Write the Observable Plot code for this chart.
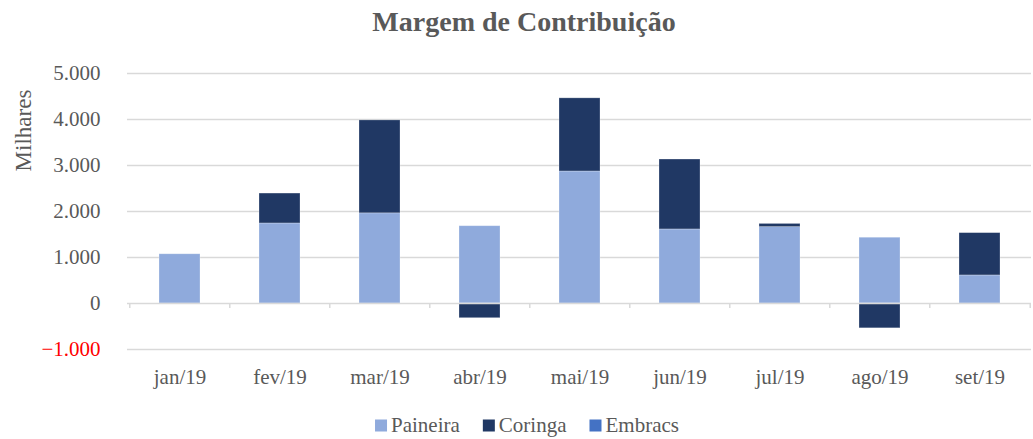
<!DOCTYPE html>
<html>
<head>
<meta charset="utf-8">
<script src="https://cdn.jsdelivr.net/npm/d3@7"></script>
<script src="https://cdn.jsdelivr.net/npm/@observablehq/plot@0.6"></script>
<style>
  body { margin: 0; background: #fff; }
  #wrap { position: relative; width: 1033px; height: 439px; font-family: "Liberation Serif", "DejaVu Serif", serif; }
  #title { position: absolute; top: 6px; left: 0; width: 1048px; text-align: center; font-family: "Liberation Serif", "DejaVu Serif", serif; font-size: 28px; font-weight: bold; color: #595959; line-height: 32px; }
  #legend { position: absolute; top: 0; left: 0; }
</style>
</head>
<body>
<div id="wrap">
  <div id="title">Margem de Contribuição</div>
  <div id="chart"></div>
  <svg id="legend" width="1033" height="439"></svg>
</div>
<script>
const months = ["jan/19","fev/19","mar/19","abr/19","mai/19","jun/19","jul/19","ago/19","set/19"];
const series = ["Paineira","Coringa","Embracs"];
const colors = ["#8FAADC","#203864","#4472C4"];
const paineira = [1070, 1740, 1960, 1680, 2870, 1610, 1660, 1430, 610];
const coringa  = [0, 650, 2020, -320, 1590, 1520, 70, -540, 920];
const embracs  = [0, 0, 0, 0, 0, 0, 0, 0, 0];
const yTicks = [-1000, 0, 1000, 2000, 3000, 4000, 5000];

const valuesBySeries = [paineira, coringa, embracs];
const data = [];
series.forEach((s, si) => months.forEach((m, mi) => data.push({month: m, series: s, value: valuesBySeries[si][mi]})));

const loc = d3.formatLocale({decimal: ",", thousands: ".", grouping: [3], currency: ["R$", ""]});
const fmt = loc.format(",");

const step = (1031 - 127) / months.length;

const chart = Plot.plot({
  width: 1033,
  height: 439,
  marginTop: 73,
  marginBottom: 90,
  marginLeft: 127,
  marginRight: 2,
  style: {fontFamily: "Liberation Serif, DejaVu Serif, serif", fontSize: "20px", color: "#595959", background: "#fff"},
  x: {domain: months, paddingInner: 0.59, paddingOuter: 0.295, label: null},
  y: {domain: [-1000, 5000], label: null},
  color: {domain: series, range: colors},
  marks: [
    Plot.ruleY(yTicks.filter(d => d !== 0), {stroke: "#d9d9d9", strokeWidth: 1.5}),
    Plot.barY(data, Plot.stackY({x: "month", y: "value", fill: "series", order: series, stroke: "#ffffff", strokeOpacity: 0.35, strokeWidth: 0.75})),
    Plot.ruleY([0], {stroke: "#d9d9d9", strokeWidth: 1.5}),
    Plot.ruleX(months, {x: d => d, y1: 0, y2: -110, dx: -step / 2, stroke: "#d9d9d9", strokeWidth: 1.5}),
    Plot.ruleX(months.slice(-1), {x: d => d, y1: 0, y2: -110, dx: step / 2, stroke: "#d9d9d9", strokeWidth: 1.5}),
    Plot.axisY({ticks: yTicks, tickSize: 0, tickPadding: 27, tickFormat: fmt, fill: d => d < 0 ? "#ff0000" : "#595959", fontSize: 21}),
    Plot.axisX({tickSize: 0, tickPadding: 20, fill: "#595959", fontSize: 21}),
    Plot.text(["Milhares"], {frameAnchor: "top-left", dx: -113, dy: 57, rotate: -90, fill: "#595959", fontSize: 23, textAnchor: "middle"})
  ]
});
document.getElementById("chart").appendChild(chart);

// Legend (SVG overlay, same font as the chart)
const lg = d3.select("#legend").style("pointer-events", "none");
const g = lg.append("g").attr("font-family", "Liberation Serif, DejaVu Serif, serif").attr("font-size", 21).attr("fill", "#595959");
let x = 0;
series.forEach((s, i) => {
  const it = g.append("g");
  it.append("rect").attr("x", x).attr("y", -6).attr("width", 12).attr("height", 12).attr("fill", colors[i]);
  const t = it.append("text").attr("x", x + 16).attr("y", 0).attr("dy", "0.33em").text(s);
  const w = t.node().getComputedTextLength();
  x += 16 + w + 23;
});
const total = x - 23;
g.attr("transform", `translate(${(1054 - total) / 2},425.5)`);
</script>
</body>
</html>
